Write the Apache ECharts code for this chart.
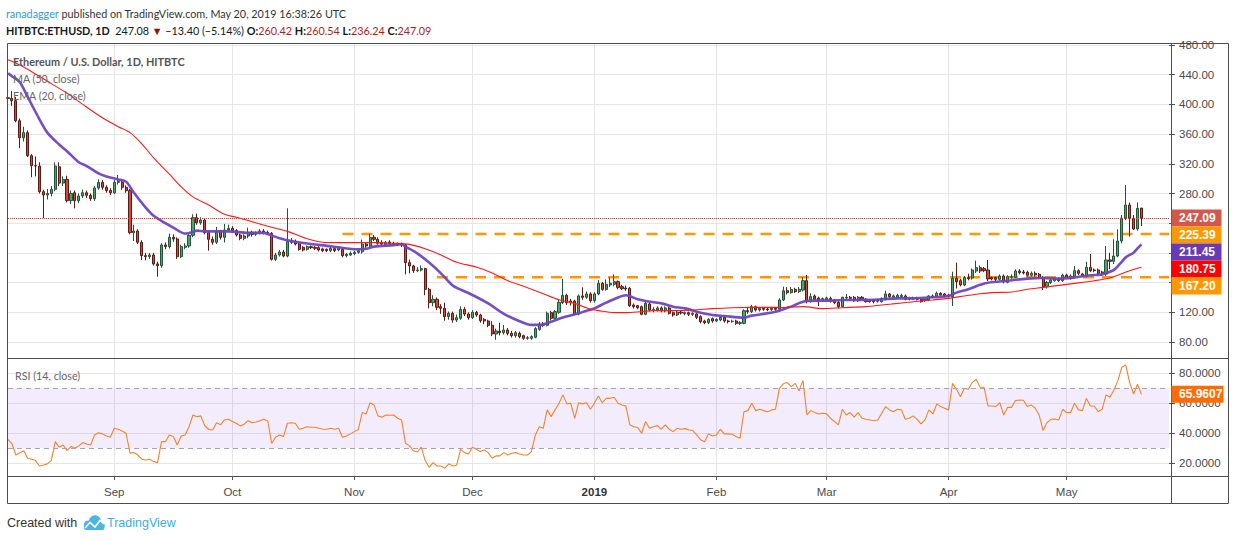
<!DOCTYPE html>
<html>
<head>
<meta charset="utf-8">
<script src="https://cdn.jsdelivr.net/npm/echarts@6.0.0/dist/echarts.min.js"></script>
<style>
html,body{margin:0;padding:0;background:#ffffff;}
#chart{width:1234px;height:540px;}
</style>
</head>
<body>
<div id="chart"></div>
<script>
// ---------------- DATA ----------------
// Daily categories start at 2018-08-05 and run to 2019-05-27 (empty space on the right).
const firstDate = '2018-08-05';
const categoryCount = 296;

// Candles from 2018-08-05 to 2019-05-20: [open, close, low, high]
const ohlc = [
  [409,408,397,419],
  // Aug 6 ..
  [408,405,398,418],[405,378,376,410],[378,355,341,381],[355,362,350,370],[362,331,329,365],
  [331,317.5,302,333],[317.5,317,303,330],[317,282.5,280,322],[282.5,278,247,285],[278,280,272,286],
  [280,285.6,276,290],[285.6,317,283,322],[316,294,290,322],[294,299,290,303],[299,270.4,268,304],
  [270.4,280,266,284],[281,270.4,260,284],[270.4,276.7,267,280],[276.7,281,274,285],[281,277.6,274,284],
  [277.6,273,270,280],[273,287.4,270,290],[287.4,295,285,299],[295,288.3,285,298],[288.3,284,281,291],
  [284,281,278,287],
  // Sep 1 ..
  [281,295,279,298],[295,296,292,305],[295,288.3,285,298],[288.3,283.8,281,291],[283.8,227.3,225,286],
  [227.3,229.5,216,238],[229.5,214.3,212,232],[214.3,196.3,190.5,217],[196.3,195,190,200],[195,197.2,192,200],
  [197.2,185.1,183,200],[185.1,182.8,168,188],[182.8,210.7,180,213],[210.7,208.4,205,214],[208.4,221,206,226],
  [221,218.7,215,225],[218.7,194.9,192,221],[194.9,208.4,193,211],[207.5,209.3,205,213],[209.3,223.7,207,226],
  [223.7,247.5,221,252],[247.5,240.7,238,253],[240.7,244.3,238,248],[244.3,227.3,225,247],[227.3,218.3,203,230],
  [218.3,214.3,211,222],[214.3,228.6,212,235],[228.6,221,218,231],[221,230.9,214,239],[230.9,233.1,228,238],
  // Oct 1 ..
  [233.1,230,227,236],[230,224.1,222,232],[224.1,219.6,217,226],[219.6,222.8,217,225],[222.8,227.7,220,234],
  [227.7,225,222,230],[225,227.3,223,229],[227.3,229.5,225,232],[229.5,227.7,225,232],[227.7,226.4,224,230],
  [226.4,191.4,189.6,228],[191.4,197.2,189,200],[197.2,201.2,195,204],[201.2,195.8,194,204],[195.8,215.1,194,260],
  [214.3,216,212,220],[215.1,212,210,218],[212,204.8,203,214],[207.5,203.9,202,209],[204.8,208.4,203,210],
  [208.4,207.1,205,210],[207.5,206.2,204,209],[207.1,203.9,202,209],[205.3,203,201,207],[204.8,203,201,206],
  [203,206.2,201,208],[205.7,203,201,207],[203.9,206.2,202,208],[204.8,196.3,194,206],[196.3,198.1,194,200],
  [197.2,199.4,196,202],
  // Nov 1 ..
  [199,200.8,197,203],[200.8,203,199,205],[201.5,212,199,218],[212,209.3,207,214],[209.3,221,208,226],
  [221,218.3,216,224],[218.3,212.9,211,221],[214,212,210,217],[211,214.3,209,216],[214.7,212.5,210,217],
  [212.5,212,210,215],[212,211.5,209,214],[212,210.7,208,214],[210.7,186.9,171,212],[186.9,182.4,172.5,191],
  [182.4,176.1,173,184],[176.1,177,174,181],[177,178.8,175,183],[178.8,150.9,143,180],[150.9,133,125.3,153],
  [133,137.5,128,143],[137.5,126.7,123,140],[127.6,125.3,118,131],[125.3,114.1,108.7,133],[114.1,118.6,110,121],
  [118.6,109.6,106,121],[109.6,112.8,107,117],[111.9,124,110,128],[124,117.7,115,127],[117.7,112.8,110,120],
  // Dec 1 ..
  [112.8,120,111,123],[120,116.4,114,122],[116.4,108.7,106,118],[110.5,108.3,104,112],[108.3,102.5,100,110],
  [102.5,90.8,88,108],[90.8,94.8,83,98],[94.8,92.6,89,106],[92.6,96.2,90,103],[96.2,91.7,89,99],
  [91.7,88.5,86,95],[88.5,92.6,86,95],[91.7,87.2,85,94],[88.5,84.9,83,90],[84.9,85.8,83,88],
  [85,87.2,83,89],[86.3,98,85,100],[97.1,104.2,95,107],[104.2,102.5,100,107],[102.5,118.6,101,121],
  [119.5,111.9,109,122],[111.9,120.9,110,123],[120,133.4,118,137],[133,142.9,131,165],[142.9,133,130,145],
  [135.2,133,129,138],[135.2,117.7,116,137],[117.7,142,116,144],[142,140.2,137,153.6],[140.2,144.7,138,148],
  [144.7,135.7,133,147],
  // Jan 1 2019 ..
  [135.7,144.7,133,147],[144.7,159,143,163.5],[159,150.9,149,161],[150.9,157.7,149,164.4],[156.8,159,154,167],
  [157.7,161.3,155,171],[161.3,153.6,151,163],[154.5,151.8,150,157],[152.7,151.5,149,156],[152.3,128.9,127,154],
  [129.8,127.6,125,132],[128.9,126.2,124,130],[127.6,117.3,116,129],[117.3,132.1,116,134.3],[131.2,123.1,121,133],
  [122.2,124,120,127],[123.1,125.8,121,128],[125.8,121.8,120,128],[121.8,125.8,120,128],[125.8,118.6,117,128],
  [119.5,116.4,114,121],[116.4,120.4,115,122],[120.4,119.1,117,122],[118.2,119.5,116,121],[119.5,117.3,115,121],
  [117.3,118.6,115,120],[117.7,113.2,111,119],[114.1,107.4,105,116],[108.3,106,104,110],[106,110.5,104,112],
  [111.4,108.3,106,113],
  // Feb 1 ..
  [108.3,110.5,107,112],[109.6,113.2,108,115],[113.2,108.3,106,115],[108.3,107.4,105,110],[107.4,108,106,110],
  [108.3,105.1,103,110],[105.1,106,103,108],[105.1,122.2,104,124],[122.2,121,118,126],[120.9,127.6,119,130],
  [127.6,123.1,121,129],[123.1,125.3,121,127],[125.3,124,122,127],[124.5,123.5,121.5,126.5],[123.5,125.3,122,127],
  [125.3,124,122,127],[124,136.6,123,139],[136.6,149.1,135,154.5],[149.1,146.5,144,154],[146.5,150.9,145,154],
  [150.9,147.8,146,153],[148,151,146,154],[150,162.6,148,167.1],[162.6,134.3,132,170.2],[134.3,141.1,133,145.6],
  [142,137.5,135,144],[139.3,136.6,128.5,141],[136.6,138.4,135,140],
  // Mar 1 ..
  [136.6,139.3,135,141],[138.8,135.2,133,141],[136.6,133,131,138],[133.4,127.6,125,135],[127.6,140.2,126,141],
  [139.3,140.2,137,144.7],[140.2,138.8,137,142],[140.2,135.7,134,142],[135.7,140.2,134,142],[140.2,137.5,136,142],
  [137.9,134.3,133,139],[136.6,134.3,133,138],[136.6,134.3,132,138],[134.8,136.6,133,138],[134.3,138.8,133,140],
  [137.5,144.7,136,149.1],[144.7,141.1,139,146],[140.2,142,139,144],[140.2,142.9,139,145],[141.1,142.9,140,145],
  [142,137.5,136,144],[137.9,139.3,136,141],[137.9,139.3,137,141],[139.3,137.5,136,141],[137.5,134.3,133,139],
  [135.7,137.5,134,139],[136.6,142,135,143],[142,140.2,139,144],[141.1,145.6,140,148],[145.6,143.3,142,147],
  [144.7,142,141,146],
  // Apr 1 ..
  [143.3,141.1,140,145],[141.1,165.8,128.5,174.7],[165.8,161.3,152,186.9],[162.6,156.8,155,165],[156.8,167.1,155,169],
  [167.1,165.3,163,172],[166.2,177,164,179],[175.6,180.1,173,189.6],[180.1,175.6,173,183],[178.8,176.1,174,181],
  [177,164.9,162,190.5],[166.7,164.9,163,168],[166.7,164.4,162,168],[164.4,168.9,163,171],[168.9,161.3,159,171],
  [160.4,168,159,170],[167.1,168,165,171],[167.1,175.6,166,178],[175.6,173.4,171,178],[174.3,173,171,177],
  [173.8,169.8,168,176],[169.8,172.5,168,175],[172.5,170.2,168,175],[171.1,166.7,165,173],[167.1,154.5,150,169],
  [154.5,160.4,152,162],[159.9,163.5,158,165],[162.6,165.3,161,167],[164.4,162.6,161,167],[162.6,170.2,161,172],
  // May 1 ..
  [170.2,167.1,165,172],[165.3,168.9,164,171],[168,176.1,166,182.4],[176.1,172.5,170,178],[171.6,169.4,168,173],
  [168.9,180.6,167,188],[180.6,176.1,174,198.5],[177,176.1,174,179],[177,172.5,170,179],[174.3,171.6,169,176],
  [171.6,190.5,169,209.3],[190.5,188.7,178,200],[188.7,195.8,185,218.3],[195.8,216,194,231.8],[216,246.6,213,251],
  [246.6,264.5,244,291.5],[264.5,246.6,222,267.7],[246.6,232.2,230.9,251],[232.2,260,230,268],[260.42,247.09,236.24,260.54]
];

// RSI(14) from 2018-08-05 to 2019-05-20
const rsi = [
  36,
  33,25.5,27,28.4,23.3,22.7,21.8,18.2,18.8,19.6,
  21.8,34.4,30.7,32.2,28.4,31.1,30,31.6,33.8,32.9,
  32.2,38.9,40.4,39.6,38.2,37.3,43.3,42.7,41.5,40,
  26.7,27.1,25.5,22.7,22.2,22.7,21.1,20.4,34.4,34.4,
  38.9,37.8,32.2,38.2,38.9,44.4,52.2,51,51.6,45,
  42.5,42.2,47,45.6,48.9,49.3,47.8,46.7,44.9,46,
  48.4,47,47.5,48.4,49.3,48.2,33.3,37.3,38.9,37.8,
  46.7,47,46.7,42.7,43.3,44.4,44,44,43.3,42.7,
  42.7,43.3,42.7,43.3,37.3,38.2,39.6,41.1,42.5,53.8,
  52.9,60.4,58.9,51.6,50.7,52.2,52,52.2,50,48.9,
  33.3,31.6,28.4,27.5,30.7,21.8,17.3,20.4,18.2,18.2,
  16.7,19.6,18.2,18.7,29.3,27.1,26.2,30.7,29.3,27.8,
  28.9,27.1,23.3,24.9,24.9,27.1,25.5,26.7,27.1,26.2,
  25.5,25.5,27.8,38.9,44.4,43.3,55.6,51.1,55.6,60,
  65.6,59.6,60,50,60.4,59.6,60.4,56,60,64.9,
  60.4,63.3,63.3,64,60,58.9,58.2,45.6,44.4,43.8,
  40,47.8,43.3,44.4,45.1,42.7,45.6,42.7,41.1,43.3,
  42.7,43.1,42.2,41.8,38.9,35.6,34.4,39.6,38.2,38.9,
  42.7,39.6,39.6,39.3,37.8,36.7,54.4,55.1,60,55.1,
  56,55.1,54.4,55.6,56,70,73,73.8,71.1,73.3,
  68.4,75.1,52.2,55.1,53.8,52.9,53.3,53,50,47.8,
  45.6,56,52.2,53.8,50.7,53.8,50,49.3,48.9,48.4,
  48.9,53.3,57.8,55.6,54.4,56,55.6,49.3,50,51.6,
  49.3,46.2,48.9,55.6,52.9,59.6,57.8,56.7,55.6,73.3,
  69.3,64.4,70,69.3,73.8,76,70.7,70.7,58.2,58.2,
  57.8,60.4,52.2,57.3,57.3,61.8,62.2,62,57.8,58.9,
  56.7,52.2,41.8,47.1,49.3,49.5,48.9,56,53.8,53.8,
  60,55.6,55.1,63.3,58.2,58.2,54.4,56,65.6,64,
  68.9,75.1,84,85.6,73.8,66.2,72.7,65.96
];

// Moving averages at sample days (day 0 = 2018-08-06)
const emaDay = [-1,0,2,4,7,9,12,14,17,19,22,24,27,29,31,34,36,39,41,44,46,47,49,55,60,64,65,68,70,72,76,81,85,87,90,92,97,99,100,103,106,109,112,113,117,121,125,129,132,134,137,140,144,146,147,148,151,154,156,159,161,165,168,171,175,178,181,186,188,192,195,197,198,201,204,208,212,217,221,225,229,234,238,240,243,245,246,248,253,258,262,266,270,274,277,280,281,282,283,285,286,287];
const emaVal = [442,438,430,410,380,362,346,337,322,317,307,303,299,296,281,261,250,240,234,226,228,230,229,229,227,227,225.5,219.6,217,215,212,209,206,205,205.7,208.4,210.5,211.6,208.4,199.4,187,172.5,156,153,143.3,132,118,108,103,103,107.4,113,118.6,122.2,123.5,125.3,133,140,142.9,137.5,135.2,132,127.6,125.3,119.5,116.4,115,112.8,115.5,118.6,122.2,126,127.6,134.3,135.7,135.7,136.6,136.6,137.5,138.8,138.8,140.2,142,146.5,151,155,157,159.9,162.6,165.3,166.2,165.3,167,169.8,171.1,177,182,188,194,200.3,206,211.45];
const maDay = [-1,2,6,10,14,18,23,27,30,33,36,40,43,46,50,54,57,61,65,70,72,75,78,81,85,89,93,97,101,105,109,113,118,122,126,130,135,139,143,146,147,149,153,156,160,163,168,173,178,183,188,193,196,201,206,211,217,221,225,229,234,238,242,246,249,254,258,262,266,270,275,279,281,284,287];
const maVal = [460,453,441,428,415,400,382,370,362,347,328,306,289,275.5,264.5,252,248,242,236,229,225,219,215,213.8,213.8,213.8,213.8,213,211.5,205.5,197.2,187.5,181,173,162.6,155,145,137,132,126,124,122.2,119.5,119.5,121,122.2,122.2,123,124.9,126.2,126.7,126.7,126.5,127.6,125,126.2,127.6,129.8,132,134.3,136.6,138.8,142,145,146.5,147.4,151,153.6,156.3,159,162.6,166.2,170,176,180.75];

// Horizontal support / resistance levels (dashed) and the day they start
const levelValues = [225.39, 167.20];
const levelStartDay = [84, 108];

const lastClose = 247.09;
const lastRsi = 65.9607;
const lastEma = 211.45;
const lastMa = 180.75;

// Tick values; labels hidden behind the price boxes in the reference are left out of the label list
const priceTicks = [80,120,160,200,240,280,320,360,400,440,480];
const priceLabels = [80,120,280,320,360,400,440,480];
const rsiTicks = [20,40,60,80];
const monthNames = ['Jan','Feb','Mar','Apr','May','Jun','Jul','Aug','Sep','Oct','Nov','Dec'];

// ---------------- FONTS ----------------
const FONT = '"Liberation Sans", Arial, sans-serif';
const HFAM = 'Lato, "Liberation Sans", sans-serif';
const measureCtx = document.createElement('canvas').getContext('2d');
function fitSize(text, family, weight, target) {
  measureCtx.font = (weight || 'normal') + ' 20px ' + family;
  const w = measureCtx.measureText(text).width;
  return Math.round(20 * target / w * 10) / 10;
}
const headSize = fitSize('ranadagger published on TradingView.com, May 20, 2019 16:38:26 UTC', HFAM, 'normal', 341);
const legendBoldSize = fitSize('Ethereum / U.S. Dollar, 1D, HITBTC', HFAM, 'bold', 172);
const legendSize = fitSize('EMA (20, close)', HFAM, 'normal', 73);

// ---------------- CHART ----------------
const categories = [];
{
  const p = firstDate.split('-').map(Number);
  for (let k = 0; k < categoryCount; k++) {
    const d = new Date(Date.UTC(p[0], p[1]-1, p[2]+k));
    categories.push(d.toISOString().slice(0,10));
  }
}
const dayToCat = d => d + 1; // category 0 is 2018-08-05
const isMonthStart = (idx, val) => typeof val === 'string' ? val.slice(8) === '01' : categories[idx].slice(8) === '01';
const lastCat = categories.length - 1;

const chart = echarts.init(document.getElementById('chart'), null, {renderer: 'svg', width: 1234, height: 540});

const gridColor = '#e6e6e6';
const axisTextColor = '#4a4a4a';

const option = {
  animation: false,
  backgroundColor: '#ffffff',
  grid: [
    {left: 8, right: 65, top: 43, height: 315},
    {left: 8, right: 65, top: 358, height: 118}
  ],
  xAxis: [
    {
      type: 'category', gridIndex: 0, data: categories, boundaryGap: false,
      axisLine: {show: false}, axisTick: {show: false}, axisLabel: {show: false},
      splitLine: {show: true, interval: isMonthStart, lineStyle: {color: gridColor, width: 1}}
    },
    {
      type: 'category', gridIndex: 1, data: categories, boundaryGap: false,
      axisLine: {show: false},
      axisTick: {show: true, interval: isMonthStart, length: 4, inside: false, lineStyle: {color: '#555'}},
      axisLabel: {
        interval: isMonthStart, margin: 10, color: axisTextColor, fontSize: 11.5, fontFamily: FONT,
        formatter: v => {
          const m = Number(v.slice(5,7));
          return m === 1 ? '{y|' + v.slice(0,4) + '}' : monthNames[m-1];
        },
        rich: {y: {fontWeight: 'bold', color: '#333', fontSize: 11.5, fontFamily: FONT}}
      },
      splitLine: {show: true, interval: isMonthStart, lineStyle: {color: gridColor, width: 1}}
    }
  ],
  yAxis: [
    {
      type: 'value', gridIndex: 0, position: 'right', min: 58.45, max: 482.7,
      axisLine: {show: false},
      axisTick: {show: true, length: 6, customValues: priceTicks, lineStyle: {color: '#555'}},
      axisLabel: {customValues: priceLabels, formatter: v => v.toFixed(2), margin: 10, color: axisTextColor, fontSize: 11.5, fontFamily: FONT},
      splitLine: {show: true, lineStyle: {color: gridColor, width: 1}}
    },
    {
      type: 'value', gridIndex: 1, position: 'right', min: 11.5, max: 90.2,
      axisLine: {show: false},
      axisTick: {show: true, length: 6, customValues: rsiTicks, lineStyle: {color: '#555'}},
      axisLabel: {customValues: rsiTicks, formatter: v => v.toFixed(4), margin: 10, color: axisTextColor, fontSize: 11.5, fontFamily: FONT},
      splitLine: {show: true, lineStyle: {color: gridColor, width: 1}}
    }
  ],
  series: [
    ...levelValues.map((v, k) => ({
      type: 'line', xAxisIndex: 0, yAxisIndex: 0, z: 1, silent: true,
      symbol: 'none',
      data: [[dayToCat(levelStartDay[k]), v], [lastCat, v]],
      lineStyle: {color: '#ff9800', width: 2.6, type: [11, 8]}
    })),
    {
      type: 'candlestick', xAxisIndex: 0, yAxisIndex: 0, z: 3,
      data: ohlc, barWidth: 2.6,
      itemStyle: {color: '#53a06f', color0: '#d24a37', borderColor: '#225437', borderColor0: '#5b1a13', borderWidth: 1},
      markLine: {
        silent: true, symbol: 'none', label: {show: false},
        lineStyle: {type: 'dotted', color: '#e53935', width: 1},
        data: [{yAxis: lastClose}]
      }
    },
    {
      type: 'line', xAxisIndex: 0, yAxisIndex: 0, z: 4, symbol: 'none', smooth: 0.3,
      data: emaDay.map((d, k) => [dayToCat(d), emaVal[k]]),
      lineStyle: {color: '#6d45c2', width: 2.6, opacity: 0.95}
    },
    {
      type: 'line', xAxisIndex: 0, yAxisIndex: 0, z: 4, symbol: 'none', smooth: 0.3,
      data: maDay.map((d, k) => [dayToCat(d), maVal[k]]),
      lineStyle: {color: '#ff1a1a', width: 1.1}
    },
    {
      type: 'line', xAxisIndex: 1, yAxisIndex: 1, z: 4, symbol: 'none',
      data: rsi,
      lineStyle: {color: '#f5822a', width: 1.1},
      markArea: {
        silent: true,
        itemStyle: {color: 'rgba(150, 80, 240, 0.11)'},
        data: [[{yAxis: 30}, {yAxis: 70}]]
      },
      markLine: {
        silent: true, symbol: 'none', label: {show: false},
        lineStyle: {type: [5, 4], color: '#a9a0b3', width: 1},
        data: [{yAxis: 70}, {yAxis: 30}]
      }
    }
  ]
};
chart.setOption(option);

// ---------------- GRAPHIC OVERLAYS (frames, texts, price boxes) ----------------
const frameColor = '#4d4d4d';
const L = 7.5, R = 1228.5, T = 43.5, B = 503.5, DIV = 1171.5;
const hline = (y, x1, x2) => ({type: 'line', shape: {x1: x1, y1: y, x2: x2, y2: y}, style: {stroke: frameColor, lineWidth: 1}, z: 50, silent: true});
const vline = (x, y1, y2) => ({type: 'line', shape: {x1: x, y1: y1, x2: x, y2: y2}, style: {stroke: frameColor, lineWidth: 1}, z: 50, silent: true});

const g = [
  hline(T, L, R), hline(B, L, R), hline(358.5, L, R), hline(476.5, L, R),
  vline(L, T, B), vline(R, T, B), vline(DIV, T, B),
  {type: 'text', x: 6, y: 13, z: 60, style: {
    text: '{u|ranadagger} published on TradingView.com, May 20, 2019 16:38:26 UTC',
    fill: '#333', fontSize: headSize, fontFamily: HFAM, verticalAlign: 'middle',
    rich: {u: {fill: '#2f9be0', fontSize: headSize, fontFamily: HFAM}}
  }},
  {type: 'text', x: 6, y: 30, z: 60, style: {
    text: '{b|HITBTC:ETHUSD, 1D}  {n|247.08} {r|▼} {n|−13.40 (−5.14%)} {b|O:}{v|260.42} {b|H:}{v|260.54} {b|L:}{v|236.24} {b|C:}{v|247.09}',
    fill: '#131722', fontSize: headSize, fontFamily: HFAM, verticalAlign: 'middle',
    rich: {
      b: {fill: '#131722', fontWeight: 'bold', fontSize: headSize, fontFamily: HFAM},
      n: {fill: '#131722', fontSize: headSize, fontFamily: HFAM},
      r: {fill: '#8b0f0f', fontSize: headSize, fontFamily: HFAM},
      v: {fill: '#b31b1b', fontSize: headSize, fontFamily: HFAM}
    }
  }},
  {type: 'text', x: 13, y: 61, z: 60, style: {text: 'Ethereum / U.S. Dollar, 1D, HITBTC', fill: '#555', fontSize: legendBoldSize, fontWeight: 'bold', fontFamily: HFAM, verticalAlign: 'middle'}},
  {type: 'text', x: 13, y: 78, z: 60, style: {text: 'MA (50, close)', fill: '#666', fontSize: legendSize, fontFamily: HFAM, verticalAlign: 'middle'}},
  {type: 'text', x: 13, y: 95, z: 60, style: {text: 'EMA (20, close)', fill: '#666', fontSize: legendSize, fontFamily: HFAM, verticalAlign: 'middle'}},
  {type: 'text', x: 15, y: 375, z: 60, style: {text: 'RSI (14, close)', fill: '#666', fontSize: legendSize, fontFamily: HFAM, verticalAlign: 'middle'}},
  {type: 'text', x: 7, y: 523, z: 60, style: {text: 'Created with', fill: '#333', fontSize: 12.5, fontFamily: FONT, verticalAlign: 'middle'}},
  {type: 'text', x: 107, y: 523, z: 60, style: {text: 'TradingView', fill: '#3aafe3', fontSize: 12.5, fontFamily: FONT, verticalAlign: 'middle'}},
  // TradingView cloud logo
  {type: 'group', z: 60, children: [
    {type: 'circle', shape: {cx: 88.5, cy: 525, r: 4.6}, style: {fill: '#4ab5e6'}},
    {type: 'circle', shape: {cx: 95, cy: 521.5, r: 6.2}, style: {fill: '#4ab5e6'}},
    {type: 'circle', shape: {cx: 100.5, cy: 525.5, r: 4.2}, style: {fill: '#4ab5e6'}},
    {type: 'rect', shape: {x: 84, y: 525, width: 20.5, height: 5, r: 2}, style: {fill: '#4ab5e6'}},
    {type: 'polyline', shape: {points: [[85, 528], [90, 522.5], [95, 527], [100, 520.5], [104, 524]]}, style: {stroke: '#ffffff', lineWidth: 1.6, fill: null}}
  ]}
];

// price boxes on the right axis, stacked so they do not overlap
const BOX_H = 17;
const mainBoxes = [
  {v: lastClose, text: lastClose.toFixed(2), color: '#d4574b'},
  {v: levelValues[0], text: levelValues[0].toFixed(2), color: '#ff9800'},
  {v: lastEma, text: lastEma.toFixed(2), color: '#673ab7'},
  {v: lastMa, text: lastMa.toFixed(2), color: '#ff0000'},
  {v: levelValues[1], text: levelValues[1].toFixed(2), color: '#ff9800'}
].map(b => Object.assign(b, {y: chart.convertToPixel({yAxisIndex: 0}, b.v)}))
 .sort((a, b) => a.y - b.y);
let prev = -1e9;
mainBoxes.forEach(b => {
  const y = Math.max(b.y, prev + BOX_H);
  prev = y;
  g.push({type: 'rect', z: 70, shape: {x: 1171.5, y: y - BOX_H/2, width: 50, height: BOX_H}, style: {fill: b.color}});
  g.push({type: 'text', z: 71, x: 1179, y: y, style: {text: b.text, fill: '#ffffff', fontSize: 12, fontWeight: 'bold', fontFamily: FONT, verticalAlign: 'middle'}});
});
{
  const y = chart.convertToPixel({yAxisIndex: 1}, lastRsi);
  g.push({type: 'rect', z: 70, shape: {x: 1171.5, y: y - BOX_H/2, width: 52, height: BOX_H}, style: {fill: '#ff6d00'}});
  g.push({type: 'text', z: 71, x: 1179, y: y, style: {text: lastRsi.toFixed(4), fill: '#ffffff', fontSize: 12, fontWeight: 'bold', fontFamily: FONT, verticalAlign: 'middle'}});
}

chart.setOption({graphic: g});
</script>
</body>
</html>
